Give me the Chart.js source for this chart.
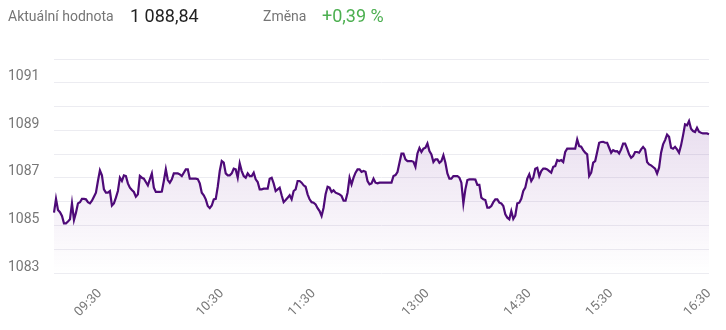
<!DOCTYPE html>
<html>
<head>
<meta charset="utf-8">
<script src="https://cdn.jsdelivr.net/npm/chart.js@4/dist/chart.umd.min.js"></script>
<style>
  html, body { margin: 0; padding: 0; background: #fff; }
  #wrap { position: relative; width: 726px; height: 330px; font-family: Roboto, sans-serif; }
  #head { position: absolute; left: 8px; top: 3px; white-space: nowrap; }
  #head span { position: absolute; top: 0; line-height: 26px; }
  .lbl { font-size: 14px; color: #757575; }
  .val { font-size: 18px; color: #222; }
  .chg { font-size: 18px; color: #4caf50; }
  canvas { position: absolute; left: 0; top: 0; }
</style>
</head>
<body>
<div id="wrap">
  <canvas id="lineChart" width="726" height="330"></canvas>
  <div id="head">
    <span class="lbl" style="left:0">Aktuální hodnota</span>
    <span class="val" style="left:122px">1 088,84</span>
    <span class="lbl" style="left:255px">Změna</span>
    <span class="chg" style="left:314px">+0,39 %</span>
  </div>
</div>
<script>
// hodnoty indexu behem dne
var values = [
    1085.54, 1086.12, 1085.65, 1085.56, 1085.40, 1085.09, 1085.09, 1085.17, 1085.26, 1085.93,
    1085.23, 1085.54, 1085.93, 1085.98, 1086.12, 1086.12, 1086.10, 1085.98, 1085.93, 1086.04,
    1086.21, 1086.38, 1086.87, 1087.32, 1087.11, 1086.52, 1086.38, 1086.38, 1086.45, 1085.84,
    1085.93, 1086.17, 1086.45, 1087.01, 1086.87, 1087.11, 1087.08, 1086.77, 1086.59, 1086.49,
    1086.41, 1086.21, 1086.31, 1087.08, 1087.01, 1086.97, 1086.83, 1086.69, 1086.94, 1087.19,
    1086.59, 1086.41, 1086.41, 1086.41,
    1086.43, 1086.87, 1087.36, 1086.91, 1086.80, 1086.94, 1087.19, 1087.19, 1087.19, 1087.15,
    1087.08, 1087.22, 1087.36, 1087.36, 1086.97, 1086.97, 1086.97, 1086.97, 1086.95, 1086.77,
    1086.38, 1086.27, 1086.10, 1085.82, 1085.73, 1085.84, 1086.10, 1086.12, 1086.63, 1087.29,
    1087.71, 1087.64, 1087.19, 1087.11, 1087.11, 1087.19, 1087.39, 1087.36, 1087.01, 1087.61,
    1087.29, 1087.08, 1087.01, 1087.19, 1087.08, 1087.08, 1087.22, 1086.94, 1086.83, 1086.52,
    1086.52, 1086.55, 1086.55, 1086.55, 1086.97,
    1087.01, 1086.77, 1086.45, 1086.52, 1086.59, 1086.27, 1085.98, 1086.07, 1086.17, 1086.27,
    1086.10, 1086.45, 1086.52, 1086.87, 1086.87, 1086.80, 1086.69, 1086.63, 1086.31, 1086.10,
    1085.98, 1085.96, 1085.89, 1085.73, 1085.61, 1085.40, 1085.75, 1086.31, 1086.63, 1086.59,
    1086.41, 1086.48, 1086.38, 1086.35, 1086.31, 1086.24, 1086.04, 1086.04, 1086.38, 1087.01,
    1086.73, 1087.01, 1087.22, 1087.36, 1087.36, 1087.25, 1087.29, 1087.26, 1086.87, 1086.73,
    1086.77, 1086.97, 1086.80, 1086.77, 1086.80,
    1086.80, 1086.80, 1086.80, 1086.80, 1086.80, 1086.80, 1087.08, 1087.12, 1087.25, 1087.64,
    1088.02, 1088.02, 1087.78, 1087.71, 1087.71, 1087.71, 1087.68, 1087.47, 1088.03, 1088.26,
    1088.09, 1088.23, 1088.27, 1088.45, 1088.13, 1087.99, 1087.67, 1087.78, 1087.78, 1087.64,
    1087.71, 1087.95, 1087.64, 1087.19, 1086.97, 1086.97, 1087.08, 1087.08, 1087.08, 1087.01,
    1086.80, 1085.93, 1086.52, 1086.91, 1086.94, 1086.94, 1086.94, 1086.93, 1086.71, 1086.71,
    1086.17, 1086.10, 1086.07, 1085.75, 1085.75,
    1085.82, 1085.98, 1086.10, 1086.10, 1085.96, 1085.93, 1085.82, 1085.47, 1085.33, 1085.26,
    1085.61, 1085.28, 1085.42, 1085.93, 1085.96, 1086.12, 1086.45, 1086.59, 1086.97, 1087.15,
    1086.87, 1087.01, 1087.39, 1087.43, 1087.08, 1087.29, 1087.39, 1087.39, 1087.36, 1087.29,
    1087.22, 1087.47, 1087.50, 1087.75, 1087.71, 1087.75, 1087.67, 1088.09, 1088.23, 1088.23,
    1088.23, 1088.23, 1088.23, 1088.62, 1088.34, 1088.31, 1088.17, 1088.06, 1087.99, 1087.08,
    1087.22, 1087.64, 1087.71, 1088.09, 1088.48,
    1088.51, 1088.52, 1088.48, 1088.48, 1088.27, 1088.06, 1088.17, 1088.12, 1088.13, 1088.03,
    1088.20, 1088.44, 1088.44, 1088.23, 1087.99, 1087.85, 1087.92, 1088.09, 1088.09, 1088.06,
    1088.20, 1088.30, 1088.20, 1087.67, 1087.57, 1087.53, 1087.46, 1087.39, 1087.18, 1087.43,
    1088.06, 1088.41, 1088.59, 1088.82, 1088.73, 1088.27, 1088.23, 1088.31, 1088.20, 1088.06,
    1088.37, 1088.79, 1089.25, 1089.21, 1089.39, 1089.07, 1088.97, 1088.93, 1089.11, 1088.94,
    1088.90, 1088.87, 1088.87, 1088.87, 1088.84
];

// popisky casove osy a body, u kterych stoji
var tickLabels = ['09:30', '10:30', '11:30', '13:00', '14:30', '15:30', '16:30'];
var tickAt = [23, 84, 130, 187, 238, 279, 328];

var yMin = 1083, yMax = 1092;

var labels = values.map(function (v, i) {
    var k = tickAt.indexOf(i);
    return k >= 0 ? tickLabels[k] : '';
});

var ctx = document.getElementById('lineChart');
var myLineChart = new Chart(ctx, {
    type: 'line',
    data: {
        labels: labels,
        datasets: [{
            data: values,
            borderColor: '#4e0a78',
            borderWidth: 2.2,
            pointRadius: 0,
            tension: 0,
            fill: 'start',
            backgroundColor: function (c) {
                var area = c.chart.chartArea;
                if (!area) return 'rgba(120,60,160,0.12)';
                var g = c.chart.ctx.createLinearGradient(0, area.top, 0, area.bottom);
                g.addColorStop(0, 'rgba(110,40,150,0.22)');
                g.addColorStop(1, 'rgba(110,40,150,0.0)');
                return g;
            }
        }]
    },
    options: {
        responsive: false,
        animation: false,
        layout: { padding: { top: 59, left: 8, right: 17, bottom: 5 } },
        plugins: { legend: { display: false }, tooltip: { enabled: false } },
        scales: {
            x: {
                grid: { display: false },
                border: { display: false },
                ticks: {
                    autoSkip: false,
                    maxRotation: 45,
                    minRotation: 45,
                    padding: 5,
                    color: '#777',
                    font: { family: 'Roboto', size: 13 },
                    callback: function (v, i) { return labels[i]; }
                }
            },
            y: {
                min: yMin,
                max: yMax,
                afterFit: function (s) { s.width = 46; },
                grid: { color: '#ececf1', drawTicks: false },
                border: { display: false },
                ticks: {
                    stepSize: 1,
                    crossAlign: 'far',
                    labelOffset: -6,
                    color: '#777',
                    font: { family: 'Roboto', size: 14 },
                    callback: function (v) { return v % 2 === 1 ? String(v) : ''; }
                }
            }
        }
    }
});
</script>
</body>
</html>
